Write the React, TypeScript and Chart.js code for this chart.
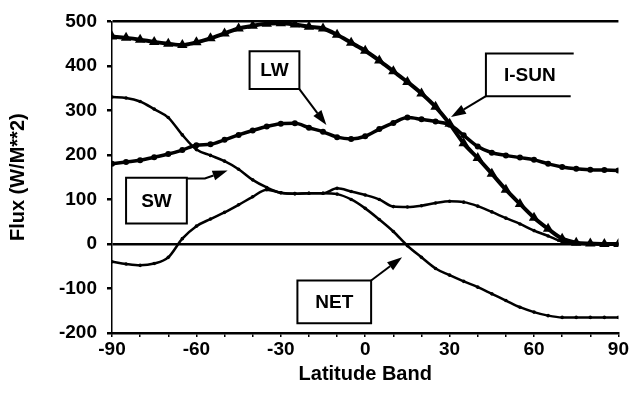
import React, { useEffect, useRef } from "react";
import { Chart, registerables } from "chart.js";

Chart.register(...registerables);

const latitudes = [-90, -85, -80, -75, -70, -65, -60, -55, -50, -45, -40, -35, -30, -25, -20, -15, -10, -5, 0, 5, 10, 15, 20, 25, 30, 35, 40, 45, 50, 55, 60, 65, 70, 75, 80, 85, 90];

const iSun = [466, 463, 459, 454, 450, 447, 453, 462, 473, 484, 490, 495, 496, 493, 488, 484, 470, 452, 434, 412, 388, 364, 338, 308, 270, 226, 193, 158, 122, 90, 59, 34, 12, 3, 1, 0, 0];
const lw = [180, 184, 188, 195, 202, 211, 222, 224, 234, 245, 255, 264, 270, 271, 261, 252, 240, 236, 242, 258, 272, 284, 280, 275, 268, 244, 219, 205, 199, 194, 189, 180, 173, 169, 167, 166, 165];
const sw = [330, 328, 320, 303, 284, 245, 212, 199, 186, 168, 144, 127, 115, 113, 114, 114, 125, 118, 110, 100, 84, 83, 86, 92, 96, 94, 85, 72, 58, 45, 30, 18, 5, 1, 0, 0, 0];
const net = [-40, -45, -48, -44, -30, 12, 40, 56, 71, 88, 106, 122, 115, 113, 114, 114, 112, 100, 80, 55, 28, -4, -30, -55, -70, -84, -97, -112, -127, -142, -153, -161, -165, -165, -165, -165, -165];

const xLabelValues = [-90, -60, -30, 0, 30, 60, 90];
const yTicks = [-200, -100, 0, 100, 200, 300, 400, 500];

// Callout labels in data units: box [lat1, val1, lat2, val2], arrow path ending at tip
const callouts = [
  { label: "LW", box: [-41.1, 433, -23.4, 348], open: false, path: [[-23.4, 348], [-13.8, 267]] },
  { label: "I-SUN", box: [42.9, 428, 74.1, 332], open: true, path: [[42.9, 332], [30.5, 285]] },
  { label: "SW", box: [-85, 149, -63.4, 46], open: false, path: [[-63.4, 147], [-57, 147], [-48.9, 165]] },
  { label: "NET", box: [-24.1, -82, 2.1, -178], open: false, path: [[2.1, -82], [13.1, -30]] },
];

const FONT = "'Liberation Sans', Arial, Helvetica, sans-serif";

const calloutPlugin = {
  id: "callouts",
  afterDatasetsDraw(chart: any) {
    const { ctx } = chart;
    const xs = chart.scales.x;
    const ys = chart.scales.y;
    ctx.save();
    ctx.strokeStyle = "#000";
    ctx.fillStyle = "#000";
    ctx.lineWidth = 2;
    for (const c of callouts) {
      const x1 = xs.getPixelForValue(c.box[0]);
      const y1 = ys.getPixelForValue(c.box[1]);
      const x2 = xs.getPixelForValue(c.box[2]);
      const y2 = ys.getPixelForValue(c.box[3]);
      ctx.fillStyle = "#fff";
      ctx.fillRect(x1, y1, x2 - x1, y2 - y1);
      ctx.fillStyle = "#000";
      ctx.beginPath();
      if (c.open) {
        ctx.moveTo(x2, y1);
        ctx.lineTo(x1, y1);
        ctx.lineTo(x1, y2);
        ctx.lineTo(x2 - 3, y2);
      } else {
        ctx.rect(x1, y1, x2 - x1, y2 - y1);
      }
      ctx.stroke();
      ctx.font = `bold 19px ${FONT}`;
      ctx.textAlign = "center";
      ctx.textBaseline = "middle";
      ctx.fillText(c.label, (x1 + x2) / 2, (y1 + y2) / 2 + 1);

      const pts = c.path.map((p) => [xs.getPixelForValue(p[0]), ys.getPixelForValue(p[1])]);
      const n = pts.length;
      const [tx, ty] = pts[n - 1];
      const [px, py] = pts[n - 2];
      const ang = Math.atan2(ty - py, tx - px);
      const headLen = 15;
      const headW = 5;
      const bx = tx - headLen * Math.cos(ang);
      const by = ty - headLen * Math.sin(ang);
      ctx.beginPath();
      ctx.moveTo(pts[0][0], pts[0][1]);
      for (let i = 1; i < n - 1; i++) ctx.lineTo(pts[i][0], pts[i][1]);
      ctx.lineTo(bx, by);
      ctx.stroke();
      ctx.beginPath();
      ctx.moveTo(tx, ty);
      ctx.lineTo(bx + headW * Math.sin(ang), by - headW * Math.cos(ang));
      ctx.lineTo(bx - headW * Math.sin(ang), by + headW * Math.cos(ang));
      ctx.closePath();
      ctx.fill();
    }
    ctx.restore();
  },
};

export default function App() {
  const ref = useRef<HTMLCanvasElement | null>(null);

  useEffect(() => {
    if (!ref.current) return;
    Chart.defaults.font.family = FONT;
    const mk = (label: string, data: number[], width: number, style: any, radius: number) => ({
      label,
      data: latitudes.map((lat, i) => ({ x: lat, y: data[i] })),
      borderColor: "#000",
      backgroundColor: "#000",
      borderWidth: width,
      pointStyle: style,
      pointRadius: radius,
      pointBorderWidth: 0,
      pointBackgroundColor: "#000",
      cubicInterpolationMode: "monotone" as const,
      fill: false,
    });
    const chart = new Chart(ref.current, {
      type: "line",
      data: {
        datasets: [
          mk("I-SUN", iSun, 4, "triangle", 6),
          mk("LW", lw, 3.5, "circle", 3),
          mk("SW", sw, 2.5, "circle", 1.8),
          mk("NET", net, 2.5, "circle", 1.8),
        ],
      },
      options: {
        responsive: false,
        animation: false,
        layout: { padding: { top: 20, right: 10, left: 0, bottom: 0 } },
        plugins: {
          legend: { display: false },
          tooltip: { enabled: false },
          title: { display: false },
        },
        scales: {
          x: {
            type: "linear",
            min: -90,
            max: 90,
            afterFit: (s: any) => {
              s.height = 71;
            },
            ticks: {
              stepSize: 10,
              autoSkip: false,
              maxRotation: 0,
              padding: 1,
              color: "#000",
              font: { size: 19, weight: "bold" },
              callback: (v: any) => (xLabelValues.includes(Number(v)) ? String(v) : ""),
            },
            grid: { drawOnChartArea: false, drawTicks: true, tickLength: 4, color: "#000", lineWidth: 1.5 },
            border: { display: true, color: "#000", width: 2.5 },
            title: {
              display: true,
              text: "Latitude Band",
              color: "#000",
              font: { size: 20, weight: "bold" },
              padding: { top: 0, bottom: 18 },
            },
          },
          y: {
            min: -200,
            max: 500,
            afterFit: (s: any) => {
              s.width = 112;
            },
            afterBuildTicks: (s: any) => {
              s.ticks = yTicks.map((v) => ({ value: v }));
            },
            ticks: {
              padding: 10,
              color: "#000",
              font: { size: 19, weight: "bold" },
            },
            grid: {
              drawOnChartArea: true,
              drawTicks: true,
              tickLength: 5,
              tickColor: "#000",
              color: (ctx: any) => (ctx.tick && (ctx.tick.value === 0 || ctx.tick.value === 500) ? "#000" : "rgba(0,0,0,0)"),
              lineWidth: 2.5,
            },
            border: { display: true, color: "#000", width: 1.5 },
            title: {
              display: true,
              text: "Flux (W/M**2)",
              color: "#000",
              font: { size: 20, weight: "bold" },
              padding: { top: 6, bottom: 0 },
            },
          },
        },
      },
      plugins: [calloutPlugin],
    });
    return () => chart.destroy();
  }, []);

  return (
    <div style={{ position: "fixed", left: 0, top: 0, width: 630, height: 404, background: "#fff" }}>
      <canvas ref={ref} width={630} height={404} style={{ width: 630, height: 404, display: "block" }} />
    </div>
  );
}
